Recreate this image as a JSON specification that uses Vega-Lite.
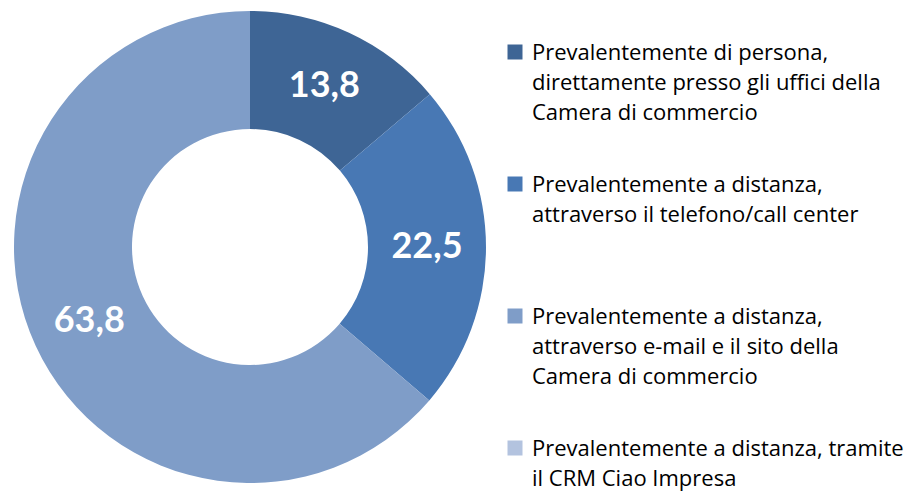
{
  "$schema": "https://vega.github.io/schema/vega-lite/v6.json",
  "width": 500,
  "height": 494,
  "autosize": {"type": "none"},
  "padding": {"left": 0, "top": 0, "right": 411, "bottom": 0},
  "background": "white",
  "config": {"view": {"stroke": null}},
  "data": {
    "values": [
      {"idx": 1, "cat": "Prevalentemente di persona,|direttamente presso gli uffici della|Camera di commercio", "value": 13.8, "label": "13,8"},
      {"idx": 2, "cat": "Prevalentemente a distanza,|attraverso il telefono/call center", "value": 22.5, "label": "22,5"},
      {"idx": 3, "cat": "Prevalentemente a distanza,|attraverso e-mail e il sito della|Camera di commercio", "value": 63.8, "label": "63,8"},
      {"idx": 4, "cat": "Prevalentemente a distanza, tramite|il CRM Ciao Impresa", "value": 0, "label": "0,0"}
    ]
  },
  "encoding": {
    "theta": {"field": "value", "type": "quantitative", "stack": true},
    "order": {"field": "idx", "type": "quantitative"}
  },
  "layer": [
    {
      "mark": {"type": "arc", "outerRadius": 236, "innerRadius": 118},
      "encoding": {
        "color": {
          "field": "cat",
          "type": "nominal",
          "scale": {
            "domain": [
              "Prevalentemente di persona,|direttamente presso gli uffici della|Camera di commercio",
              "Prevalentemente a distanza,|attraverso il telefono/call center",
              "Prevalentemente a distanza,|attraverso e-mail e il sito della|Camera di commercio",
              "Prevalentemente a distanza, tramite|il CRM Ciao Impresa"
            ],
            "range": ["#3E6595", "#4878B4", "#7F9DC8", "#B3C3DF"]
          },
          "legend": {
            "title": null,
            "orient": "none",
            "legendX": 504,
            "legendY": 41,
            "symbolType": "square",
            "symbolSize": 225,
            "symbolStrokeWidth": 0,
            "symbolOpacity": 1,
            "labelExpr": "split(datum.value, '|')",
            "labelFont": "Open Sans",
            "labelFontSize": 22,
            "labelColor": "#000000",
            "labelLimit": 450,
            "labelOffset": 6,
            "labelBaseline": "alphabetic",
            "gridAlign": "all",
            "rowPadding": 49,
            "encode": {
              "labels": {"update": {"lineHeight": {"value": 30}, "dy": {"value": 8}}}
            }
          }
        }
      }
    },
    {
      "transform": [{"filter": "datum.value > 0"}],
      "mark": {"type": "text", "radius": 177, "font": "Lato", "fontSize": 36, "fontWeight": "bold", "color": "white"},
      "encoding": {
        "text": {"field": "label", "type": "nominal"}
      }
    }
  ]
}
